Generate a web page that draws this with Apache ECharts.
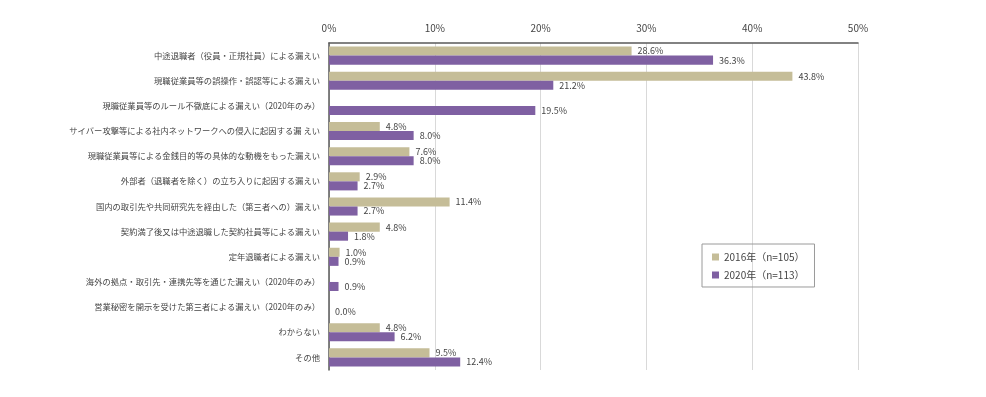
<!DOCTYPE html>
<html>
<head>
<meta charset="utf-8">
<script src="https://cdn.jsdelivr.net/npm/echarts@6/dist/echarts.min.js"></script>
<style>
html, body { margin: 0; padding: 0; background: #fff; }
#chart { width: 986px; height: 397px; }
</style>
</head>
<body>
<div id="chart"></div>
<script>
var categories = [
    '中途退職者（役員・正規社員）による漏えい',
    '現職従業員等の誤操作・誤認等による漏えい',
    '現職従業員等のルール不徹底による漏えい（2020年のみ）',
    'サイバー攻撃等による社内ネットワークへの侵入に起因する漏 えい',
    '現職従業員等による金銭目的等の具体的な動機をもった漏えい',
    '外部者（退職者を除く）の立ち入りに起因する漏えい',
    '国内の取引先や共同研究先を経由した（第三者への）漏えい',
    '契約満了後又は中途退職した契約社員等による漏えい',
    '定年退職者による漏えい',
    '海外の拠点・取引先・連携先等を通じた漏えい（2020年のみ）',
    '営業秘密を開示を受けた第三者による漏えい（2020年のみ）',
    'わからない',
    'その他'
];
// '-' = 2016年は調査項目なし
var data2016 = [28.6, 43.8, '-', 4.8, 7.6, 2.9, 11.4, 4.8, 1.0, '-', '-', 4.8, 9.5];
var data2020 = [36.3, 21.2, 19.5, 8.0, 8.0, 2.7, 2.7, 1.8, 0.9, 0.9, 0.0, 6.2, 12.4];
var seriesNames = ['2016年（n=105）', '2020年（n=113）'];
var xTicks = [0, 10, 20, 30, 40, 50];

var font = '"Noto Sans CJK JP", "Noto Sans", sans-serif';
var textColor = '#454545';

var myChart = echarts.init(document.getElementById('chart'));

function labelOpt() {
    return {
        show: true,
        position: 'right',
        distance: 6,
        color: textColor,
        fontSize: 9,
        fontFamily: font,
        formatter: function (p) {
            return Number(p.value).toFixed(1) + '%';
        }
    };
}

var option = {
    backgroundColor: '#fff',
    animation: false,
    color: ['#c5bd98', '#7f60a2'],
    grid: {
        left: 329,
        right: 128,
        top: 43,
        bottom: 27
    },
    legend: {
        data: seriesNames,
        orient: 'vertical',
        left: 702,
        top: 244,
        icon: 'rect',
        itemWidth: 7,
        itemHeight: 7,
        itemGap: 8,
        padding: [8, 10, 7, 10],
        borderColor: '#9a9a9a',
        borderWidth: 1,
        textStyle: {
            color: textColor,
            fontSize: 10,
            fontFamily: font
        }
    },
    xAxis: {
        type: 'value',
        position: 'top',
        min: xTicks[0],
        max: xTicks[xTicks.length - 1],
        interval: 10,
        axisLine: { show: true, lineStyle: { color: '#595959', width: 1.5 } },
        axisTick: { show: false },
        axisLabel: {
            color: textColor,
            fontSize: 10,
            fontFamily: font,
            margin: 10,
            formatter: '{value}%'
        },
        splitLine: { show: true, lineStyle: { color: '#d9d9d9' } }
    },
    yAxis: {
        type: 'category',
        inverse: true,
        data: categories,
        axisLine: { show: true, lineStyle: { color: '#595959', width: 1.5 } },
        axisTick: { show: false },
        axisLabel: {
            color: textColor,
            fontSize: 8.3,
            fontFamily: font,
            margin: 9
        }
    },
    series: [
        {
            name: seriesNames[0],
            type: 'bar',
            data: data2016,
            barGap: '0%',
            barCategoryGap: '28%',
            label: labelOpt()
        },
        {
            name: seriesNames[1],
            type: 'bar',
            data: data2020,
            barGap: '0%',
            barCategoryGap: '28%',
            label: labelOpt()
        }
    ]
};

myChart.setOption(option);
window.addEventListener('resize', function () {
    myChart.resize();
});
</script>
</body>
</html>
